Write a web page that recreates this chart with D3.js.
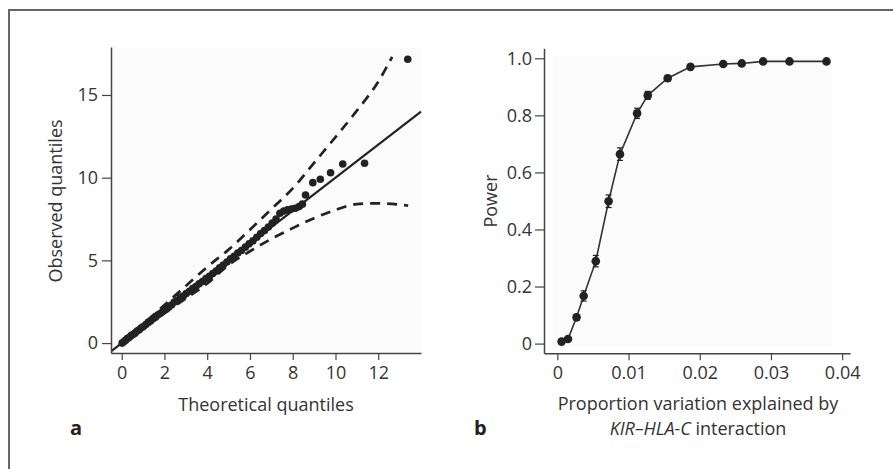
<!DOCTYPE html>
<html><head><meta charset="utf-8">
<script src="https://cdn.jsdelivr.net/npm/d3@7"></script>
<style>
html,body{margin:0;padding:0;background:#fff;}
text{font-family:"Open Sans",sans-serif;fill:#333;}
</style></head>
<body>
<svg id="chart" width="893" height="469"></svg>
<script>
// ---- Panel a: QQ plot data ----
const qqTheoretical = [0.02,0.1,0.18,0.26,0.35,0.44,0.53,0.62,0.72,0.82,0.92,1.02,1.13,1.24,1.35,1.46,1.58,1.7,1.82,1.94,2.07,2.2,2.33,2.46,2.6,2.74,2.88,3.02,3.17,3.32,3.47,3.62,3.78,3.94,4.1,4.26,4.42,4.58,4.75,4.92,5.09,5.26,5.43,5.6,5.78,5.96,6.14,6.32,6.5,6.68,6.86,7.04,7.22,7.4,7.58,7.76,7.94,8.12,8.3,8.45,8.6,8.94,9.29,9.77,10.34,11.36,13.38];
const qqObserved    = [0.0,0.08,0.17,0.27,0.33,0.45,0.52,0.6,0.73,0.8,0.93,1.0,1.12,1.25,1.33,1.47,1.56,1.71,1.8,1.95,2.05,2.22,2.3,2.48,2.57,2.76,2.85,3.0,3.13,3.3,3.42,3.58,3.72,3.9,4.03,4.2,4.35,4.55,4.72,4.9,5.1,5.25,5.45,5.6,5.8,6.0,6.18,6.4,6.62,6.8,7.02,7.25,7.5,7.85,7.98,8.05,8.1,8.15,8.25,8.4,8.95,9.7,9.9,10.3,10.83,10.87,17.16];
const refLineX = [-0.5, 14];
const upperBandX = [0, 1, 2, 3, 4, 5, 6, 7, 8, 9, 10, 11, 12, 12.65];
const upperBandY = [0.05, 1.15, 2.3, 3.45, 4.6, 5.65, 6.85, 8.1, 9.35, 10.9, 12.45, 14.05, 15.8, 17.3];
const lowerBandX = [0, 1, 2, 3, 4, 5, 6, 7, 8, 9, 10, 11, 12, 13, 13.4];
const lowerBandY = [-0.05, 0.9, 1.8, 2.7, 3.6, 4.72, 5.55, 6.3, 6.95, 7.55, 8.05, 8.4, 8.45, 8.37, 8.31];
const aXTicks = [0, 2, 4, 6, 8, 10, 12];
const aYTicks = [0, 5, 10, 15];

// ---- Panel b: power curve data ----
const propVariation = [0.0006,0.0015,0.0027,0.0037,0.0054,0.0072,0.0088,0.0112,0.0127,0.0155,0.0187,0.0233,0.0259,0.0289,0.0326,0.0378];
const power         = [0.007,0.016,0.092,0.167,0.289,0.499,0.664,0.807,0.870,0.930,0.970,0.980,0.982,0.989,0.989,0.989];
const powerErr      = [0.004,0.005,0.010,0.018,0.020,0.022,0.022,0.018,0.014,0.010,0.006,0.005,0.005,0.004,0.004,0.004];
const bXTicks = [0, 0.01, 0.02, 0.03, 0.04];
const bYTicks = [0, 0.2, 0.4, 0.6, 0.8, 1.0];

const svg = d3.select("#chart");
const ink = "#222";
const axisCol = "#444";

// frame
svg.append("line").attr("x1",8).attr("x2",893).attr("y1",10).attr("y2",10).attr("stroke","#666").attr("stroke-width",2);
svg.append("line").attr("x1",9).attr("x2",9).attr("y1",9).attr("y2",469).attr("stroke","#666").attr("stroke-width",2);

function styleAxis(g){
  g.select(".domain").attr("stroke",axisCol).attr("stroke-width",1.5);
  g.selectAll(".tick line").attr("stroke",axisCol).attr("stroke-width",1.2);
  g.selectAll(".tick text").attr("font-size",18).attr("font-family","'Open Sans',sans-serif").attr("fill","#333");
}

// ===== Panel a =====
const ax = d3.scaleLinear().domain([-0.5, 14]).range([111, 421]);
const ay = d3.scaleLinear().domain([-0.6, 17.9]).range([353, 47]);

svg.append("rect").attr("x",112).attr("y",48).attr("width",309).attr("height",304).attr("fill","#fbfbfb");

svg.append("clipPath").attr("id","clipA").append("rect").attr("x",111).attr("y",40).attr("width",312).attr("height",313);

const ga = svg.append("g").attr("clip-path","url(#clipA)");
ga.append("line").attr("x1",ax(refLineX[0])).attr("y1",ay(refLineX[0])).attr("x2",ax(refLineX[1])).attr("y2",ay(refLineX[1]))
  .attr("stroke",ink).attr("stroke-width",2.2);
const bandLine = d3.line().curve(d3.curveMonotoneX);
ga.append("path").attr("d",bandLine(upperBandX.map((x,i)=>[ax(x),ay(upperBandY[i])])))
  .attr("fill","none").attr("stroke",ink).attr("stroke-width",2.7).attr("stroke-dasharray","10,7");
ga.append("path").attr("d",bandLine(lowerBandX.map((x,i)=>[ax(x),ay(lowerBandY[i])])))
  .attr("fill","none").attr("stroke",ink).attr("stroke-width",2.7).attr("stroke-dasharray","10,7");
ga.selectAll("circle.qq").data(qqTheoretical).enter().append("circle").attr("class","qq")
  .attr("cx",d=>ax(d)).attr("cy",(d,i)=>ay(qqObserved[i])).attr("r",3.8).attr("fill",ink);

const axA = svg.append("g").attr("transform","translate(0,353)")
  .call(d3.axisBottom(ax).tickValues(aXTicks).tickSize(7).tickSizeOuter(0).tickPadding(6).tickFormat(d3.format("d")));
styleAxis(axA);
const ayA = svg.append("g").attr("transform","translate(111,0)")
  .call(d3.axisLeft(ay).tickValues(aYTicks).tickSize(9).tickSizeOuter(0).tickPadding(4).tickFormat(d3.format("d")));
styleAxis(ayA);

svg.append("text").attr("x",266).attr("y",411).attr("text-anchor","middle").attr("font-size",18).text("Theoretical quantiles");
svg.append("text").attr("transform","translate(62,201) rotate(-90)").attr("text-anchor","middle").attr("font-size",18).text("Observed quantiles");
svg.append("text").attr("x",70).attr("y",435).attr("font-size",20).attr("font-weight","bold").style("fill","#222").text("a");

// ===== Panel b =====
const bx = d3.scaleLinear().domain([-0.00187, 0.0411]).range([544, 850]);
const by = d3.scaleLinear().domain([-0.034, 1.035]).range([353.3, 48.3]);

svg.append("rect").attr("x",553).attr("y",55).attr("width",279).attr("height",292).attr("fill","#fbfbfb");

const pts = propVariation.map((x,i)=>({x, y: power[i], e: powerErr[i]}));
svg.append("path").datum(pts).attr("d", d3.line().x(d=>bx(d.x)).y(d=>by(d.y)))
  .attr("fill","none").attr("stroke","#333").attr("stroke-width",1.6);
const eb = svg.append("g");
pts.forEach(d=>{
  eb.append("line").attr("x1",bx(d.x)).attr("x2",bx(d.x)).attr("y1",by(d.y-d.e)).attr("y2",by(d.y+d.e)).attr("stroke",ink).attr("stroke-width",1.4);
  [d.y-d.e, d.y+d.e].forEach(v=>{
    eb.append("line").attr("x1",bx(d.x)-3).attr("x2",bx(d.x)+3).attr("y1",by(v)).attr("y2",by(v)).attr("stroke",ink).attr("stroke-width",1.2);
  });
});
svg.selectAll("circle.pw").data(pts).enter().append("circle").attr("class","pw")
  .attr("cx",d=>bx(d.x)).attr("cy",d=>by(d.y)).attr("r",4.3).attr("fill",ink);

const axB = svg.append("g").attr("transform","translate(0,353.3)")
  .call(d3.axisBottom(bx).tickValues(bXTicks).tickSize(7).tickSizeOuter(0).tickPadding(6).tickFormat(d=>d===0?"0":d3.format(".2f")(d)));
styleAxis(axB);
const ayB = svg.append("g").attr("transform","translate(544,0)")
  .call(d3.axisLeft(by).tickValues(bYTicks).tickSize(9).tickSizeOuter(0).tickPadding(3).tickFormat(d=>d===0?"0":d3.format(".1f")(d)));
styleAxis(ayB);

svg.append("text").attr("x",698).attr("y",410).attr("text-anchor","middle").attr("font-size",18).text("Proportion variation explained by");
const t2 = svg.append("text").attr("x",698).attr("y",435).attr("text-anchor","middle").attr("font-size",18);
t2.append("tspan").attr("font-style","italic").text("KIR–HLA-C");
t2.append("tspan").text(" interaction");
svg.append("text").attr("transform","translate(497,201) rotate(-90)").attr("text-anchor","middle").attr("font-size",18).text("Power");
svg.append("text").attr("x",474).attr("y",435).attr("font-size",20).attr("font-weight","bold").style("fill","#222").text("b");
</script>
</body></html>
